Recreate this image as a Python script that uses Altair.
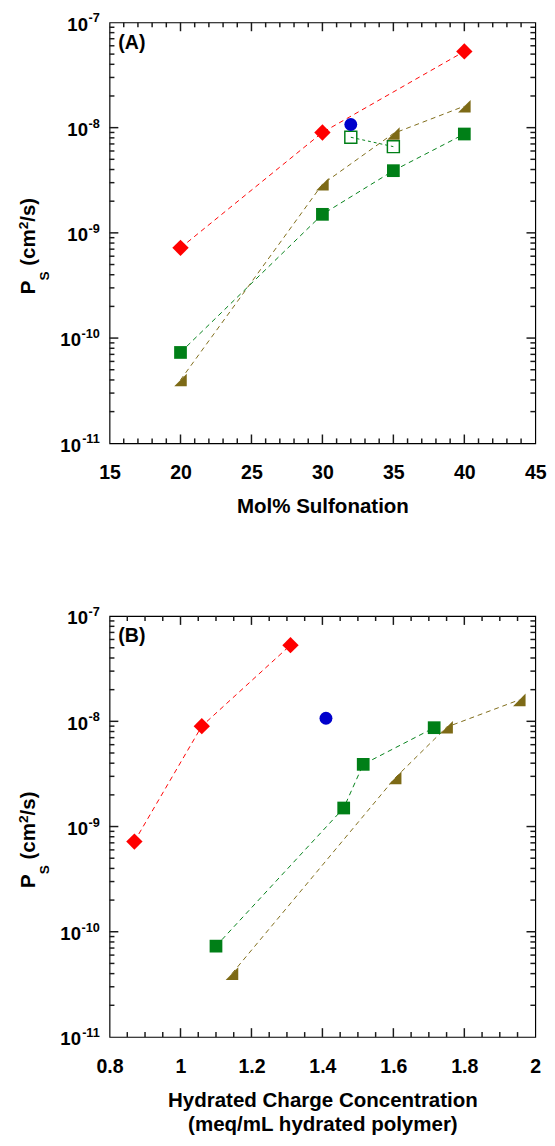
import altair as alt
import pandas as pd

# ---------------- data ----------------
# Panel A: x = mol% sulfonation
SULF_RED = [20, 30, 40]
SULF_BLUE = [32]
SULF_OPEN = [32, 35]
SULF_TRI = [20, 30, 35, 40]
SULF_SQ = [20, 30, 35, 40]
# Panel B: x = hydrated charge concentration (meq/mL hydrated polymer)
CONC_RED = [0.87, 1.06, 1.31]
CONC_BLUE = [1.41]
CONC_TRI = [1.145, 1.605, 1.75, 1.955]
CONC_SQ = [1.10, 1.46, 1.515, 1.715]
# salt permeability P_s (cm^2/s)
PS_RED = [7.2e-10, 9.0e-9, 5.3e-8]
PS_BLUE = [1.07e-8]
PS_OPEN = [8.1e-9, 6.6e-9]
PS_TRI = [4.0e-11, 2.9e-9, 8.8e-9, 1.6e-8]
PS_SQ = [7.3e-11, 1.5e-9, 3.9e-9, 8.7e-9]

# axis ticks / labels
Y_MAJOR = [1e-11, 1e-10, 1e-9, 1e-8, 1e-7]
Y_EXP = ["-11", "-10", "-9", "-8", "-7"]
Y_MINOR = [k * 10.0 ** e for e in range(-11, -7) for k in range(2, 10)]
XA_MAJOR = [15, 20, 25, 30, 35, 40, 45]
XA_MINOR = list(range(15, 46))
XB_MAJOR = [0.8, 1.0, 1.2, 1.4, 1.6, 1.8, 2.0]
XB_MINOR = [round(0.8 + 0.05 * i, 2) for i in range(25)]

RED = "#FF0000"
BLUE = "#0000CC"
GREEN = "#007F17"
OLIVE = "#7D6A16"
TRI = "M -1 1 L 1 1 L 1 -1 Z"

FONT = "Liberation Sans"
W, H = 436, 431
MAJ, MIN = 9, 5
TICK_W = 1.5
TICK_C = "#1a1a1a"

# approximate Arial-bold advance widths (em) for placing rich-text pieces
CW = {"P": .667, "S": .667, " ": .278, "(": .333, "c": .556, "m": .889,
      "/": .278, "s": .556, ")": .333, "-": .333}


def tw(s, size):
    return sum(CW.get(ch, .556) for ch in s) * size


def panel(series, x_dom, x_major, x_minor, x_title, tag):
    xs = alt.Scale(domain=x_dom, nice=False, zero=False)
    ys = alt.Scale(type="log", domain=[1e-11, 1e-7], nice=False)

    maj_x = [v for v in x_major if x_dom[0] < v < x_dom[1]]
    minor_x = [v for v in x_minor if v not in x_major and x_dom[0] < v < x_dom[1]]
    maj_y = Y_MAJOR[1:-1]

    x_lab = alt.Axis(orient="bottom", values=x_major, ticks=False, domain=False,
                     grid=False, format="~g", labelFont=FONT, labelFontSize=20,
                     labelFontWeight="bold", labelColor="black", labelPadding=20,
                     title=x_title, titleFont=FONT, titleFontSize=21,
                     titleFontWeight="bold", titleColor="black", titlePadding=14,
                     labelFlush=False)
    y_lab = alt.Axis(orient="left", values=Y_MAJOR, ticks=False, domain=False,
                     grid=False, labels=False, title="")

    layers = []

    # inward tick marks on all four sides, drawn as rules through the shared scales
    def xt(vals, L):
        d = pd.DataFrame({"v": vals})
        c = alt.Chart(d).mark_rule(color=TICK_C, strokeWidth=TICK_W)
        e = alt.X("v:Q", scale=xs, axis=x_lab)
        return [c.encode(x=e, y=alt.value(0), y2=alt.value(L)),
                c.encode(x=e, y=alt.value(H - L), y2=alt.value(H))]

    def yt(vals, L):
        d = pd.DataFrame({"v": vals})
        c = alt.Chart(d).mark_rule(color=TICK_C, strokeWidth=TICK_W)
        e = alt.Y("v:Q", scale=ys, axis=y_lab)
        return [c.encode(y=e, x=alt.value(0), x2=alt.value(L)),
                c.encode(y=e, x=alt.value(W - L), x2=alt.value(W))]

    layers += xt(maj_x, MAJ) + xt(minor_x, MIN) + yt(maj_y, MAJ) + yt(Y_MINOR, MIN)

    for xv, yv, color, shape, size, filled, dash in series:
        df = pd.DataFrame({"x": xv, "y": yv})
        base = alt.Chart(df).encode(
            x=alt.X("x:Q", scale=xs, axis=x_lab),
            y=alt.Y("y:Q", scale=ys, axis=y_lab),
        )
        if dash is not None and len(xv) > 1:
            layers.append(base.mark_line(color=color, strokeWidth=1, strokeDash=dash))
        if filled:
            layers.append(base.mark_point(shape=shape, size=size, filled=True,
                                          color=color, opacity=1, strokeWidth=0))
        else:
            layers.append(base.mark_point(shape=shape, size=size, filled=False,
                                          color=color, opacity=1, strokeWidth=1.5))

    # y tick labels: "10" with superscript exponent
    exp_df = pd.DataFrame({"v": Y_MAJOR, "e": Y_EXP})
    layers.append(alt.Chart(exp_df).mark_text(
        align="right", baseline="middle", font=FONT, fontSize=13,
        fontWeight="bold", color="black", dy=-4
    ).encode(y=alt.Y("v:Q", scale=ys, axis=y_lab), x=alt.value(-10), text="e:N"))
    for v, e in zip(Y_MAJOR, Y_EXP):
        d = pd.DataFrame({"v": [v], "b": ["10"]})
        layers.append(alt.Chart(d).mark_text(
            align="right", baseline="middle", font=FONT, fontSize=19,
            fontWeight="bold", color="black", dy=2.5
        ).encode(y=alt.Y("v:Q", scale=ys, axis=y_lab),
                 x=alt.value(-10 - tw(e, 13) - 0.5), text="b:N"))

    # y title  P_S (cm^2/s), rotated, built from pieces: (text, size, offset, gap)
    F, f = 21, 14
    pieces = [("P", F, 0, 0), ("S", f, 14, 0), ("(cm", F, 0, tw(" ", F)),
              ("2", f, -8, 0), ("/s)", F, 0, 0)]
    total = sum(tw(t, s) + g for t, s, _, g in pieces)
    pos = H / 2 + 13.5 + total / 2
    base_x = -76
    for t, s, off, gap in pieces:
        pos -= gap
        d = pd.DataFrame({"t": [t]})
        layers.append(alt.Chart(d).mark_text(
            align="left", baseline="alphabetic", angle=270, font=FONT,
            fontSize=s, fontWeight="bold", color="black"
        ).encode(x=alt.value(base_x + off), y=alt.value(pos), text="t:N"))
        pos -= tw(t, s)

    layers.append(alt.Chart(pd.DataFrame({"t": [tag]})).mark_text(
        align="left", baseline="middle", font=FONT, fontSize=20,
        fontWeight="bold", color="black"
    ).encode(x=alt.value(9), y=alt.value(21), text="t:N"))

    return alt.layer(*layers).properties(width=W, height=H)


series_a = [
    (SULF_RED, PS_RED, RED, "diamond", 280, True, [5, 4]),
    (SULF_TRI, PS_TRI, OLIVE, TRI, 165, True, [5, 4]),
    (SULF_SQ, PS_SQ, GREEN, "square", 170, True, [5, 4]),
    (SULF_OPEN, PS_OPEN, GREEN, "square", 150, False, [3, 3]),
    (SULF_BLUE, PS_BLUE, BLUE, "circle", 175, True, None),
]
series_b = [
    (CONC_RED, PS_RED, RED, "diamond", 280, True, [5, 4]),
    (CONC_TRI, PS_TRI, OLIVE, TRI, 165, True, [5, 4]),
    (CONC_SQ, PS_SQ, GREEN, "square", 170, True, [5, 4]),
    (CONC_BLUE, PS_BLUE, BLUE, "circle", 175, True, None),
]

pa = panel(series_a, [15, 45], XA_MAJOR, XA_MINOR, "Mol% Sulfonation", "(A)")
pb = panel(series_b, [0.8, 2.0], XB_MAJOR, XB_MINOR,
           ["Hydrated Charge Concentration", "(meq/mL hydrated polymer)"], "(B)")

chart = alt.vconcat(pa, pb, spacing=90).properties(
    padding={"left": 8, "top": -10, "right": 0, "bottom": 2}
).configure_view(stroke="black", strokeWidth=1.2).configure_axis(
    titleLineHeight=25
)

chart.save("out.html", embed_options={"renderer": "svg", "actions": False})
